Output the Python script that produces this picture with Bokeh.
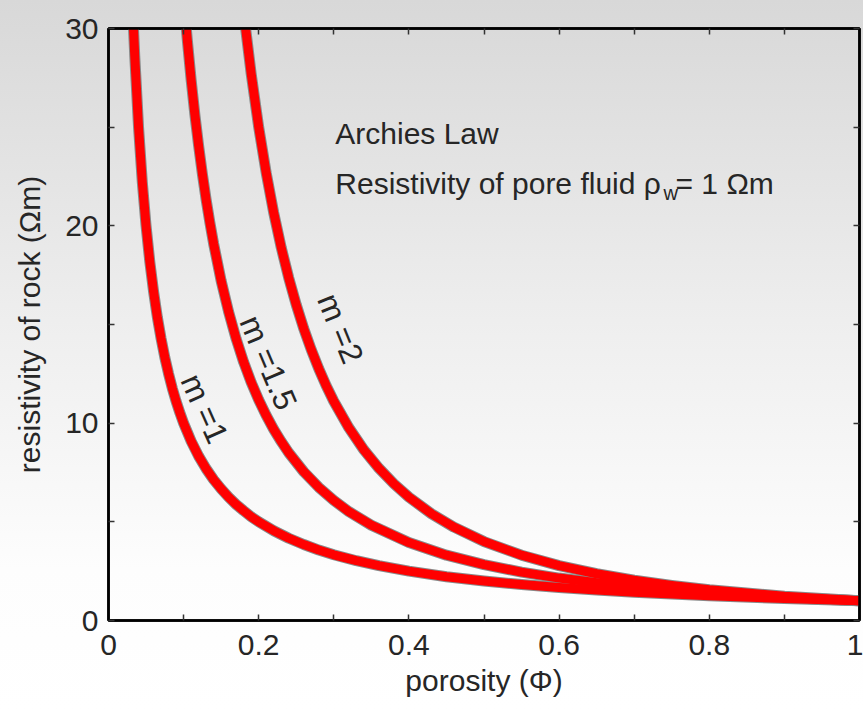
import math
from bokeh.plotting import figure
from bokeh.models import FixedTicker, LinearAxis, Range1d
from bokeh.core.properties import value
from bokeh.embed import file_html
from bokeh.resources import INLINE

# Readings from the reference: porosity (phi) and rock resistivity (ohm m)
phi_m1 = [0.0333, 0.035, 0.04, 0.045, 0.05, 0.055, 0.06, 0.065, 0.07, 0.075, 0.08, 0.085, 0.09, 0.095,
          0.10, 0.11, 0.12, 0.13, 0.14, 0.15, 0.16, 0.17, 0.18, 0.19, 0.20, 0.22, 0.24, 0.26, 0.28,
          0.30, 0.33, 0.36, 0.40, 0.45, 0.50, 0.55, 0.60, 0.65, 0.70, 0.80, 0.90, 1.00]
rho_m1 = [30.0, 28.57, 25.0, 22.22, 20.0, 18.18, 16.67, 15.38, 14.29, 13.33, 12.5, 11.76, 11.11, 10.53,
          10.0, 9.09, 8.33, 7.69, 7.14, 6.67, 6.25, 5.88, 5.56, 5.26, 5.0, 4.55, 4.17, 3.85, 3.57,
          3.33, 3.03, 2.78, 2.5, 2.22, 2.0, 1.82, 1.67, 1.54, 1.43, 1.25, 1.11, 1.0]

phi_m15 = [0.1036, 0.105, 0.11, 0.115, 0.12, 0.125, 0.13, 0.135, 0.14, 0.15, 0.16, 0.17, 0.18, 0.19,
           0.20, 0.21, 0.22, 0.23, 0.24, 0.26, 0.28, 0.30, 0.32, 0.35, 0.40, 0.45, 0.50, 0.55, 0.60,
           0.65, 0.70, 0.80, 0.90, 1.00]
rho_m15 = [30.0, 29.39, 27.41, 25.64, 24.06, 22.63, 21.33, 20.16, 19.09, 17.21, 15.63, 14.27, 13.09, 12.07,
           11.18, 10.39, 9.69, 9.07, 8.50, 7.54, 6.75, 6.09, 5.52, 4.83, 3.95, 3.31, 2.83, 2.45, 2.15,
           1.91, 1.71, 1.40, 1.17, 1.0]

phi_m2 = [0.1826, 0.19, 0.20, 0.21, 0.22, 0.23, 0.24, 0.25, 0.26, 0.27, 0.28, 0.29, 0.30, 0.32, 0.34,
          0.36, 0.38, 0.40, 0.43, 0.46, 0.50, 0.55, 0.60, 0.65, 0.70, 0.75, 0.80, 0.90, 1.00]
rho_m2 = [30.0, 27.70, 25.0, 22.68, 20.66, 18.90, 17.36, 16.0, 14.79, 13.72, 12.76, 11.89, 11.11, 9.77, 8.65,
          7.72, 6.93, 6.25, 5.41, 4.73, 4.0, 3.31, 2.78, 2.37, 2.04, 1.78, 1.56, 1.23, 1.0]

x_major = [0, 0.2, 0.4, 0.6, 0.8, 1.0]
x_minor = [0.1, 0.3, 0.5, 0.7, 0.9]
y_major = [0, 10, 20, 30]
y_minor = [5, 15, 25]

FONT = "Liberation Sans"
TXT = "#262626"

p = figure(width=863, height=711, output_backend="svg", toolbar_location=None,
           x_range=Range1d(0, 1), y_range=Range1d(0, 30),
           min_border_left=108, min_border_right=4, min_border_top=28, min_border_bottom=91,
           background_fill_color=None, border_fill_color=None)
p.styles = {"background": "linear-gradient(to bottom, #d8d8d8 0%, #eeeeee 45%, #fdfdfd 80%, #ffffff 100%)"}
p.grid.visible = False
p.outline_line_color = "black"
p.outline_line_width = 2.5

def style_axis(ax, ticks, minor, labels=True):
    ax.ticker = FixedTicker(ticks=ticks, minor_ticks=minor)
    ax.axis_line_color = "black"
    ax.axis_line_width = 2.5
    ax.major_tick_in = 6
    ax.major_tick_out = 0
    ax.minor_tick_in = 6
    ax.minor_tick_out = 0
    ax.major_tick_line_color = "#333333"
    ax.minor_tick_line_color = "#333333"
    ax.major_tick_line_width = 1.5
    ax.minor_tick_line_width = 1.5
    ax.major_label_text_font = FONT
    ax.major_label_text_font_size = "30px"
    ax.major_label_text_color = TXT if labels else None
    ax.axis_label_text_font = FONT
    ax.axis_label_text_font_size = "30px"
    ax.axis_label_text_font_style = "normal"
    ax.axis_label_text_color = TXT

style_axis(p.xaxis[0], x_major, x_minor)
style_axis(p.yaxis[0], y_major, y_minor)
p.xaxis.axis_label = "porosity (Φ)"
p.yaxis.axis_label = "resistivity of rock (Ωm)"
p.xaxis.major_label_standoff = 14
p.xaxis.axis_label_standoff = 6
p.yaxis.major_label_standoff = 10
p.yaxis.axis_label_standoff = 16

top = LinearAxis()
style_axis(top, x_major, x_minor, labels=False)
top.major_label_text_font_size = "0px"
p.add_layout(top, "above")
right = LinearAxis()
style_axis(right, y_major, y_minor, labels=False)
right.major_label_text_font_size = "0px"
p.add_layout(right, "right")
p.min_border_top = 28
p.min_border_right = 4

curves = [(phi_m1, rho_m1), (phi_m15, rho_m15), (phi_m2, rho_m2)]
for xs, ys in curves:
    p.line(xs, ys, line_color="#8a8a8a", line_width=11, line_join="round")
for xs, ys in curves:
    p.line(xs, ys, line_color="#ff0000", line_width=9, line_join="round")

for x, y, t, a in [(0.128, 10.74, "m =1", -66), (0.213, 13.07, "m =1.5", -67), (0.309, 14.80, "m =2", -68)]:
    p.text(x=[x], y=[y], text=[t], angle=a * math.pi / 180,
           text_align="center", text_baseline="middle", text_font=value(FONT),
           text_font_size="32px", text_color=TXT)

p.text(x=[0.302], y=[24.68], text=["Archies Law"], text_align="left",
       text_baseline="alphabetic", text_font=value(FONT), text_font_size="30px", text_color=TXT)
p.text(x=[0.302], y=[22.15], text=["Resistivity of pore fluid ρ"], text_align="left",
       text_baseline="alphabetic", text_font=value(FONT), text_font_size="30px", text_color=TXT)
p.text(x=[0.739], y=[21.64], text=["w"], text_align="left",
       text_baseline="alphabetic", text_font=value(FONT), text_font_size="20px", text_color=TXT)
p.text(x=[0.755], y=[22.15], text=["= 1 Ωm"], text_align="left",
       text_baseline="alphabetic", text_font=value(FONT), text_font_size="30px", text_color=TXT)

open("out.html", "w").write(file_html(p, INLINE))
